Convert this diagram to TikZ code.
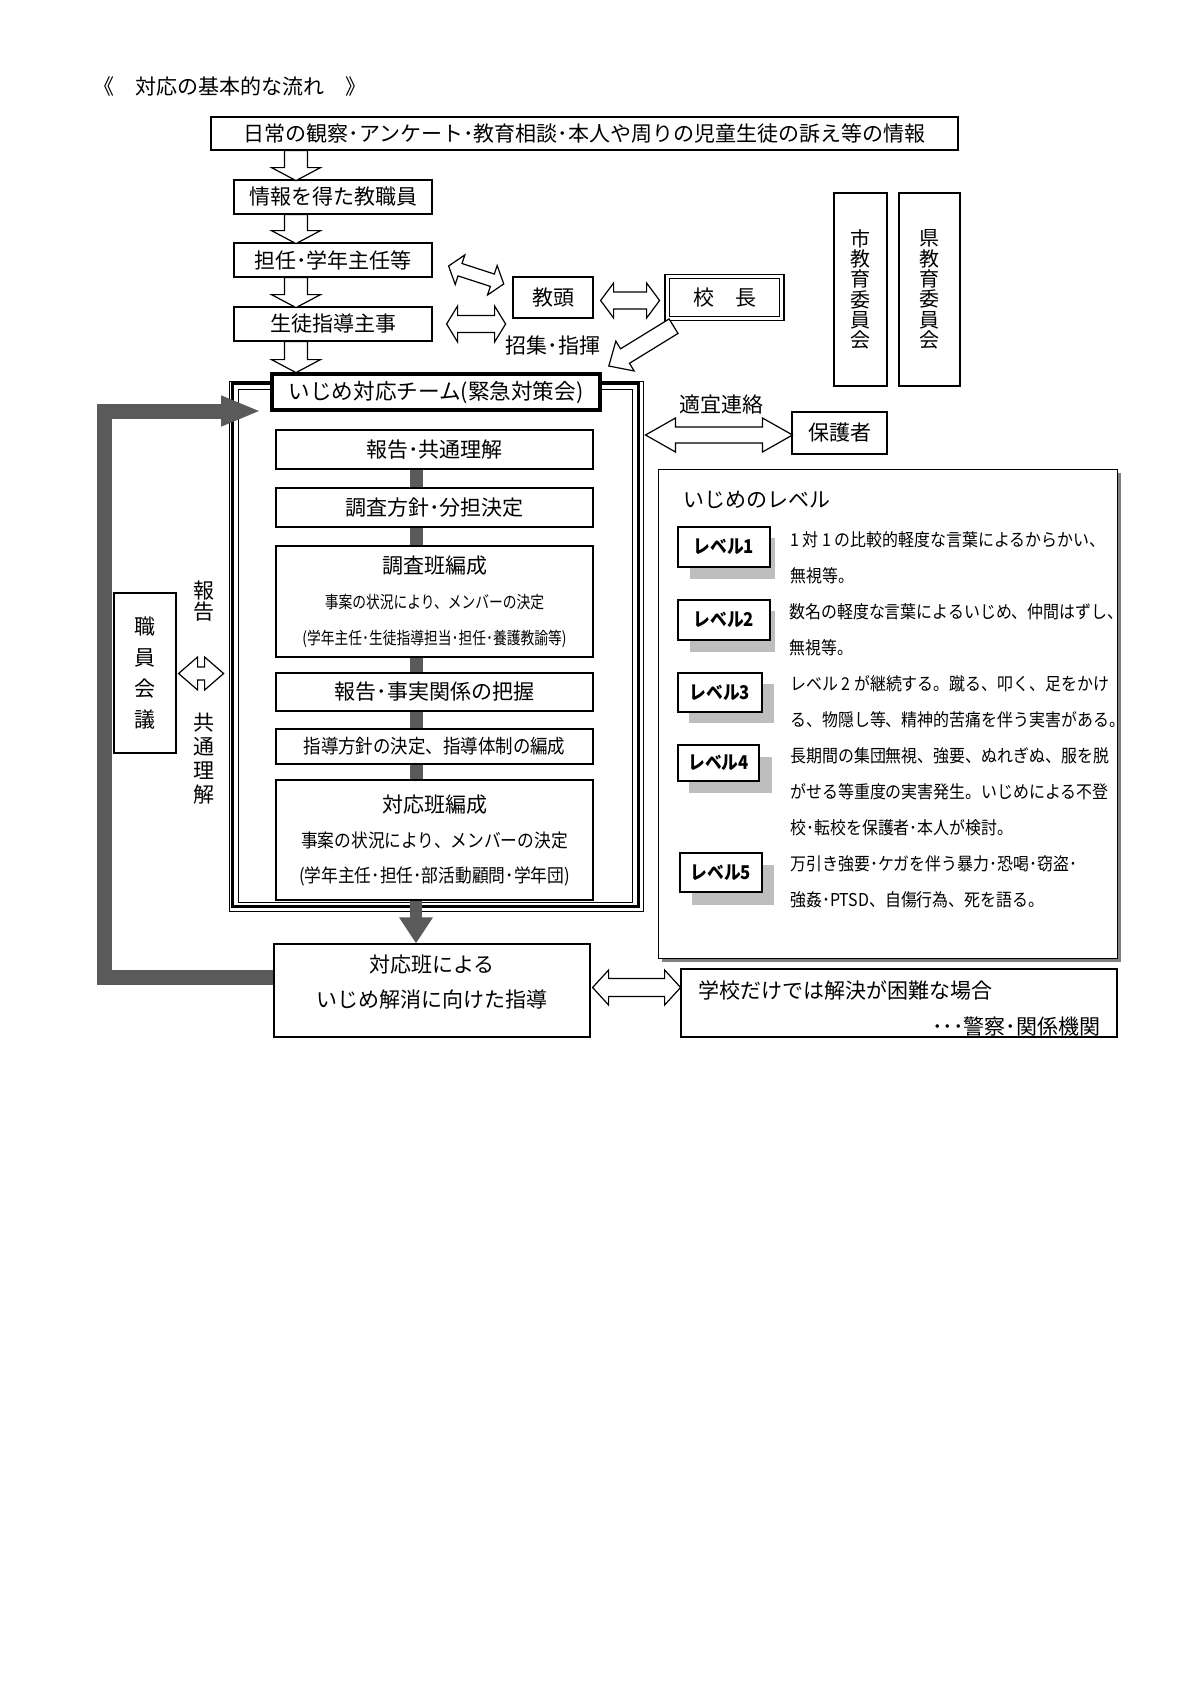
\documentclass[tikz,border=0pt]{standalone}
\usepackage{fontspec}
\setmainfont{Noto Sans CJK JP}
\newfontfamily\narrowjp[FakeStretch=0.81]{Noto Sans CJK JP}
\newfontfamily\midjp[FakeStretch=0.9]{Noto Sans CJK JP}
\newfontfamily\lvjp[FakeStretch=0.88]{Noto Sans CJK JP}
\usetikzlibrary{arrows.meta,calc}

\definecolor{flowgray}{RGB}{90,90,90}
\definecolor{lvshade}{RGB}{190,190,190}
\definecolor{boxshadow}{RGB}{128,128,128}

\newcommand{\fsmain}{\fontsize{10.5}{12.6}\selectfont}

\tikzset{
  hollowline/.style={draw=black, fill=white, line width=0.6pt, line join=miter},
  % length / shaft / head width / head length
  pics/hollowarrow/.style n args={4}{code={%
    \draw[hollowline] (0,-#2/2) -- ({#1-#4},-#2/2) -- ({#1-#4},-#3/2) -- (#1,0) -- ({#1-#4},#3/2) -- ({#1-#4},#2/2) -- (0,#2/2) -- cycle;}},
  pics/hollowdouble/.style n args={4}{code={%
    \draw[hollowline] (0,0) -- (#4,-#3/2) -- (#4,-#2/2) -- ({#1-#4},-#2/2) -- ({#1-#4},-#3/2) -- (#1,0) -- ({#1-#4},#3/2) -- ({#1-#4},#2/2) -- (#4,#2/2) -- (#4,#3/2) -- cycle;}}
}

\begin{document}
\begin{tikzpicture}[x=0.5pt,y=0.5pt,yscale=-1,xscale=1,
  box/.style={draw, line width=0.6pt, fill=white, inner sep=0pt, align=center, font=\fsmain},
  flowbox/.style={box, minimum width=99pt, minimum height=17pt},
  stepbox/.style={box, minimum width=158.5pt},
  vtext/.style={inner sep=0pt, align=center},
  textlabel/.style={inner sep=0pt, font=\fsmain},
  lvbox/.style={draw, line width=0.9pt, fill=white, inner sep=0pt, font=\lvjp\bfseries\fontsize{9.5}{11}\selectfont},
  desc/.style={anchor=west, inner sep=0pt, align=left, font=\midjp\fontsize{8.85}{18}\selectfont},
  flowbar/.style={draw=flowgray, line width=6.5pt}]
\useasboundingbox (0,0) rectangle (1200,1697);

% Title
\node[textlabel, anchor=west] (title) at (93,87) {《　対応の基本的な流れ　》};

% Upper flow
\node[box, minimum width=373.5pt, minimum height=16.5pt] (info) at (584.5,133.5) {日常の観察･アンケート･教育相談･本人や周りの児童生徒の訴え等の情報};
\node[flowbox] (teacher) at (333,197) {情報を得た教職員};
\node[flowbox] (tannin) at (333,260) {担任･学年主任等};
\node[flowbox] (seito) at (333,324) {生徒指導主事};
\node[box, minimum width=40pt, minimum height=20.5pt] (kyoto) at (553,297.5) {教頭};
\node[box, double, double distance=1.4pt, line width=0.7pt, minimum width=57.25pt, minimum height=21pt] (kocho) at (724.5,297.5) {校　長};
\node[textlabel] (shoshu) at (553,346) {招集･指揮};

% Boards of education
\node[box, minimum width=26.5pt, minimum height=96.5pt, font=\fontsize{10}{10.15}\selectfont] (shi) at (860.5,289.5) {市\\教\\育\\委\\員\\会};
\node[box, minimum width=30.5pt, minimum height=96.5pt, font=\fontsize{10}{10.15}\selectfont] (ken) at (929.5,289.5) {県\\教\\育\\委\\員\\会};

% Team frame
\node[draw, line width=0.5pt, minimum width=207pt, minimum height=265pt, inner sep=0pt] (frame) at (436,646) {};
\draw[line width=1.4pt] ($(frame.north west)+(4,3)$) rectangle ($(frame.south east)+(-5,-5)$);
\draw[line width=0.5pt] ($(frame.north west)+(10,9)$) rectangle ($(frame.south east)+(-11,-9)$);
\node[box, line width=2pt, minimum width=164pt, minimum height=18pt, font=\fontsize{10.8}{13}\selectfont] (team) at (436,392) {いじめ対応チーム(緊急対策会)};

% Steps
\node[stepbox, minimum height=19.5pt] (s1) at (434.5,449.5) {報告･共通理解};
\node[stepbox, minimum height=19.5pt] (s2) at (434.5,507.5) {調査方針･分担決定};
\node[stepbox, minimum height=55.5pt, font=\fontsize{10.5}{17.75}\selectfont] (s3) at (434.5,601.5) {調査班編成\\{\narrowjp\fontsize{8.5}{17.75}\selectfont 事案の状況により、メンバーの決定}\\{\narrowjp\fontsize{8.5}{17.75}\selectfont (学年主任･生徒指導担当･担任･養護教諭等)}};
\node[stepbox, minimum height=19pt] (s4) at (434.5,692) {報告･事実関係の把握};
\node[stepbox, minimum height=17.5pt, font=\midjp\fontsize{9.7}{12}\selectfont] (s5) at (434.5,746.5) {指導方針の決定、指導体制の編成};
\node[stepbox, minimum height=60pt, font=\fontsize{10.5}{17.5}\selectfont] (s6) at (434.5,840) {対応班編成\\{\midjp\fontsize{9.3}{17.5}\selectfont 事案の状況により、メンバーの決定}\\{\midjp\fontsize{9.3}{17.5}\selectfont (学年主任･担任･部活動顧問･学年団)}};
\node[box, minimum width=158pt, minimum height=46.5pt, font=\fontsize{10.5}{17.5}\selectfont] (taiou) at (432,990.5) {対応班による\\いじめ解消に向けた指導\rule[-9pt]{0pt}{9pt}};

% Staff meeting
\node[box, minimum width=31pt, minimum height=80pt, font=\fontsize{10.5}{15.5}\selectfont] (kaigi) at (145,673) {職\\員\\会\\議};
\node[vtext, font=\fontsize{10.5}{10.75}\selectfont] (hokoku) at (204,601) {報\\告};
\node[vtext, font=\fontsize{10.5}{12}\selectfont] (kyotsu) at (204,759) {共\\通\\理\\解};

% Guardians
\node[box, minimum width=47.5pt, minimum height=21pt] (hogosha) at (839.5,433) {保護者};
\node[textlabel] (tekigi) at (721,405) {適宜連絡};

% Levels
\fill[boxshadow] (662,473) rectangle (1121,962);
\node[draw, line width=0.5pt, fill=white, minimum width=229.5pt, minimum height=244.5pt] (levels) at (887.5,713.5) {};
\node[textlabel, anchor=west] (lvtitle) at (683,500) {いじめのレベル};

\fill[lvshade] (690,538) rectangle (775,579);
\node[lvbox, minimum width=46pt, minimum height=20pt] (lv1) at (724,547) {レベル1};
\fill[lvshade] (690,611) rectangle (775,652);
\node[lvbox, minimum width=46pt, minimum height=20pt] (lv2) at (724,620) {レベル2};
\fill[lvshade] (689,684) rectangle (774,723);
\node[lvbox, minimum width=42pt, minimum height=19.5pt] (lv3) at (720,692.5) {レベル3};
\fill[lvshade] (689,757) rectangle (772,793);
\node[lvbox, minimum width=40.5pt, minimum height=18pt] (lv4) at (718.5,763) {レベル4};
\fill[lvshade] (692,865) rectangle (774,905);
\node[lvbox, minimum width=41pt, minimum height=19.5pt] (lv5) at (721,872.5) {レベル5};

\node[desc] (d1) at (790,558) {1 対 1 の比較的軽度な言葉によるからかい、\\無視等。};
\node[desc] (d2) at (789,630) {数名の軽度な言葉によるいじめ、仲間はずし、\\無視等。};
\node[desc] (d3) at (790,702) {レベル 2 が継続する。蹴る、叩く、足をかけ\\る、物隠し等、精神的苦痛を伴う実害がある。};
\node[desc] (d4) at (790,792) {長期間の集団無視、強要、ぬれぎぬ、服を脱\\がせる等重度の実害発生。いじめによる不登\\校･転校を保護者･本人が検討。};
\node[desc] (d5) at (790,882) {万引き強要･ケガを伴う暴力･恐喝･窃盗･\\強姦･PTSD、自傷行為、死を語る。};

% Outside help
\node[box, minimum width=218pt, minimum height=34pt, text width=201pt, align=left, font=\fontsize{10.5}{18}\selectfont] (keisatsu) at (899,1003) {\rule{0pt}{14.7pt}学校だけでは解決が困難な場合\\\mbox{}\hfill･･･警察･関係機関};

% Gray flow
\coordinate (spine) at (416,0);
\draw[flowbar] (s1.south -| spine) -- (s2.north -| spine);
\draw[flowbar] (s2.south -| spine) -- (s3.north -| spine);
\draw[flowbar] (s3.south -| spine) -- (s4.north -| spine);
\draw[flowbar] (s4.south -| spine) -- (s5.north -| spine);
\draw[flowbar] (s5.south -| spine) -- (s6.north -| spine);
\draw[flowbar, line width=6pt, -{Triangle[length=13pt, width=16pt]}] (s6.south -| spine) -- (taiou.north -| spine);
\coordinate (loopcorner) at (104.5,411);
\coordinate (loopin) at (261,411);
\draw[flowbar, line width=7.5pt, line join=miter, -{Triangle[length=20pt, width=14pt]}] ($(taiou.west)+(0,-13)$) -| (loopcorner) -- (loopin);

% Hollow arrows
\coordinate (downx) at (296,0);
\pic[rotate=-90] at (info.south -| downx) {hollowarrow={30}{23}{49}{13}};
\pic[rotate=-90] at (teacher.south -| downx) {hollowarrow={29}{23}{49}{13}};
\pic[rotate=-90] at (tannin.south -| downx) {hollowarrow={30}{23}{49}{13}};
\pic[rotate=-90] at (seito.south -| downx) {hollowarrow={31}{23}{49}{13}};
\pic[rotate=-18] at ($(tannin.east)+(16,6)$) {hollowdouble={58}{13}{31}{12}};
\pic at ($(seito.east)+(14,0)$) {hollowdouble={59}{17}{36}{11}};
\pic at ($(kyoto.east)+(7,3)$) {hollowdouble={59}{17}{35}{13}};
\pic[rotate=-148.4] at ($(kocho.south west)+(7,7)$) {hollowarrow={76}{17}{35}{19}};
\pic at ($(frame.east |- hogosha.west)+(2,2)$) {hollowdouble={147}{16}{34}{30}};
\pic at ($(kaigi.east)+(2,0.5)$) {hollowdouble={45}{13}{33}{19}};
\pic at ($(taiou.east)+(2,-3)$) {hollowdouble={88}{18}{35}{16}};

\end{tikzpicture}
\end{document}
